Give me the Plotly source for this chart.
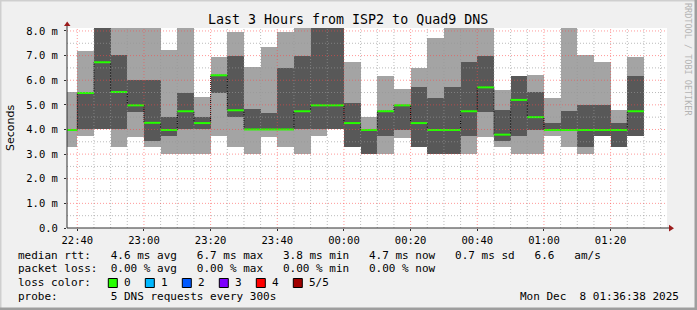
import plotly.graph_objects as go
import pandas as pd

# ---------------- data (ms) ----------------
# 5-minute intervals, start times
starts = pd.date_range("2025-12-07 22:35:00", periods=35, freq="5min")
# sorted ping values per interval: p1 (min) .. p5 (max); values above the axis top are clipped
p1 = [3.27, 3.74, 4.00, 3.27, 3.71, 3.27, 3.00, 3.00, 3.00, 3.74, 3.27, 3.00, 3.71, 3.27, 3.00, 3.74, 4.00, 3.27,
      3.00, 3.00, 3.67, 3.27, 3.00, 3.00, 3.00, 3.70, 3.27, 3.00, 3.00, 3.74, 3.27, 3.00, 3.74, 3.27, 3.74]
p2 = [3.98, 4.00, 4.00, 4.00, 4.72, 3.54, 3.74, 4.00, 4.00, 5.48, 4.49, 4.00, 4.00, 4.00, 4.00, 4.00, 4.00, 3.27,
      3.00, 3.74, 3.98, 3.27, 3.00, 3.00, 3.74, 4.70, 3.54, 3.74, 3.98, 3.98, 3.98, 3.27, 3.74, 3.27, 3.74]
median = [3.98, 5.48, 6.73, 5.52, 4.98, 4.27, 3.98, 4.74, 4.26, 6.20, 4.78, 4.00, 4.00, 4.00, 4.74, 4.98, 4.98, 4.26,
          3.98, 4.74, 4.98, 4.26, 3.98, 3.98, 4.74, 5.71, 3.79, 5.20, 4.50, 3.98, 3.98, 3.98, 3.98, 3.98, 4.74]
p4 = [3.98, 5.48, 8.50, 7.03, 6.00, 6.00, 4.49, 5.47, 4.49, 6.22, 7.00, 4.82, 4.68, 6.49, 7.00, 8.50, 8.50, 5.06,
      3.98, 4.74, 4.98, 5.71, 5.28, 5.71, 6.73, 7.00, 4.78, 6.19, 5.51, 4.27, 4.74, 4.98, 4.98, 4.27, 6.19]
p5 = [5.54, 7.20, 8.50, 8.50, 8.50, 8.50, 7.24, 8.50, 5.31, 6.93, 7.96, 6.55, 7.36, 7.96, 8.50, 8.50, 8.50, 6.75,
      4.50, 6.19, 5.63, 6.49, 7.72, 8.50, 8.50, 8.50, 5.59, 6.19, 6.23, 5.28, 8.50, 7.02, 6.73, 4.78, 6.93]

y_tickvals = [0, 1, 2, 3, 4, 5, 6, 7, 8]
y_ticktext = ["0.0", "1.0 m", "2.0 m", "3.0 m", "4.0 m", "5.0 m", "6.0 m", "7.0 m", "8.0 m"]

title_text = "Last 3 Hours from ISP2 to Quad9 DNS"
legend_lines = [
    "median rtt:   4.6 ms avg   6.7 ms max   3.8 ms min   4.7 ms now   0.7 ms sd   6.6   am/s",
    "packet loss:  0.00 % avg   0.00 % max   0.00 % min   0.00 % now",
]
loss_labels = ["0", "1", "2", "3", "4", "5/5"]
loss_colors = ["#26ff00", "#00b8ff", "#0059ff", "#7e00ff", "#ff0000", "#a00000"]
probe_line = "probe:        5 DNS requests every 300s"
date_text = "Mon Dec  8 01:36:38 2025"

# ---------------- layout geometry ----------------
L, T, W, H = 67, 28, 600, 200
FIG_W, FIG_H = 697, 310
def px(x):
    return (x - L) / W
def py(y):
    return (T + H - y) / H

step = pd.Timedelta(minutes=5)
centers = [s + step / 2 for s in starts]
width_ms = step.total_seconds() * 1000

fig = go.Figure()
# smoke: outer (min..max) light, inner (2nd..4th) dark
fig.add_trace(go.Bar(x=centers, base=p1, y=[b - a for a, b in zip(p1, p5)], width=width_ms,
                     marker=dict(color="#a4a4a4", line=dict(width=0)), hoverinfo="skip"))
fig.add_trace(go.Bar(x=centers, base=p2, y=[b - a for a, b in zip(p2, p4)], width=width_ms,
                     marker=dict(color="#585858", line=dict(width=0)), hoverinfo="skip"))

# median step line (black dotted connectors)
sx = list(starts) + [starts[-1] + step]
sy = list(median) + [median[-1]]
fig.add_trace(go.Scatter(x=sx, y=sy, mode="lines", line=dict(color="#000000", width=1, dash="1px,1px", shape="hv"),
                         hoverinfo="skip"))
# green median segments
gx, gy = [], []
for s, m in zip(starts, median):
    gx += [s, s + step, None]
    gy += [m, m, None]
fig.add_trace(go.Scatter(x=gx, y=gy, mode="lines", line=dict(color="#26ff00", width=2), hoverinfo="skip"))

shapes = []
# grid lines above traces
minor_color = "rgba(150,150,150,0.65)"
major_color = "rgba(255,70,70,0.55)"
t = pd.Timestamp("2025-12-07 22:40:00")
while t <= pd.Timestamp("2025-12-08 01:35:00"):
    major = (t.minute % 20 == 0)
    shapes.append(dict(type="line", xref="x", yref="paper", x0=t, x1=t, y0=0, y1=1, layer="above",
                       line=dict(color=major_color if major else minor_color, width=1, dash="1px,2px")))
    t += step
for k in range(1, 17):
    v = k * 0.5
    major = (k % 2 == 0)
    shapes.append(dict(type="line", xref="paper", yref="y", x0=0, x1=1, y0=v, y1=v, layer="above",
                       line=dict(color=major_color if major else minor_color, width=1, dash="1px,2px")))

# axes lines and arrows
axis_col = "#303030"
arrow_col = "#9b1c1c"
shapes.append(dict(type="line", xref="paper", yref="paper", x0=px(67), x1=px(67), y0=py(228), y1=py(25),
                   layer="above", line=dict(color=axis_col, width=1)))
shapes.append(dict(type="line", xref="paper", yref="paper", x0=px(67), x1=px(670), y0=py(228), y1=py(228),
                   layer="above", line=dict(color=axis_col, width=1)))
shapes.append(dict(type="path", xref="paper", yref="paper", layer="above", fillcolor=arrow_col, line=dict(width=0),
                   path=f"M {px(64)} {py(26)} L {px(70.5)} {py(26)} L {px(67.2)} {py(21.5)} Z"))
shapes.append(dict(type="path", xref="paper", yref="paper", layer="above", fillcolor=arrow_col, line=dict(width=0),
                   path=f"M {px(669)} {py(224.8)} L {px(669)} {py(231.5)} L {px(674)} {py(228.2)} Z"))

# frame
shapes.append(dict(type="rect", xref="paper", yref="paper", x0=px(0), x1=px(697), y0=py(0), y1=py(1.5),
                   fillcolor="#cfcfcf", line=dict(width=0), layer="below"))
shapes.append(dict(type="rect", xref="paper", yref="paper", x0=px(0), x1=px(1.5), y0=py(0), y1=py(310),
                   fillcolor="#cfcfcf", line=dict(width=0), layer="below"))
shapes.append(dict(type="rect", xref="paper", yref="paper", x0=px(694.5), x1=px(697), y0=py(0), y1=py(310),
                   fillcolor="#9e9e9e", line=dict(width=0), layer="below"))
shapes.append(dict(type="rect", xref="paper", yref="paper", x0=px(0), x1=px(697), y0=py(307.5), y1=py(310),
                   fillcolor="#9e9e9e", line=dict(width=0), layer="below"))

mono = "DejaVu Sans Mono"
NB = "\u00a0"
annotations = []
annotations.append(dict(text=title_text.replace(" ", NB), x=px(348), y=py(19), xref="paper", yref="paper",
                        xanchor="center", yanchor="middle", showarrow=False,
                        font=dict(family=mono, size=13.3, color="#000")))
annotations.append(dict(text="Seconds", x=px(10), y=py(128), xref="paper", yref="paper", textangle=-90,
                        xanchor="center", yanchor="middle", showarrow=False,
                        font=dict(family="DejaVu Sans", size=11, color="#000")))
annotations.append(dict(text="RRDTOOL / TOBI OETIKER".replace(" ", NB), x=px(688), y=py(59), xref="paper",
                        yref="paper", textangle=90, xanchor="center", yanchor="middle", showarrow=False,
                        font=dict(family=mono, size=8.5, color="#b4b4b4")))
line_y = [255, 268.5, 282.5, 296]
for i, ln in enumerate(legend_lines):
    annotations.append(dict(text=ln.replace(" ", NB), x=px(16), y=py(line_y[i]), xref="paper", yref="paper",
                            xanchor="left", yanchor="middle", showarrow=False,
                            font=dict(family=mono, size=11, color="#000")))
annotations.append(dict(text="loss" + NB + "color:", x=px(16), y=py(line_y[2]), xref="paper", yref="paper",
                        xanchor="left", yanchor="middle", showarrow=False,
                        font=dict(family=mono, size=11, color="#000")))
box_x = [108.3, 145.3, 182.3, 219.3, 256.3, 293.3]
for bx, lab, col in zip(box_x, loss_labels, loss_colors):
    shapes.append(dict(type="rect", xref="paper", yref="paper", x0=px(bx), x1=px(bx + 9), y0=py(287.5),
                       y1=py(278.5), fillcolor=col, line=dict(color="#000", width=1), layer="above"))
    annotations.append(dict(text=lab, x=px(bx + 14), y=py(line_y[2]), xref="paper", yref="paper",
                            xanchor="left", yanchor="middle", showarrow=False,
                            font=dict(family=mono, size=11, color="#000")))
annotations.append(dict(text=probe_line.replace(" ", NB), x=px(16), y=py(line_y[3]), xref="paper", yref="paper",
                        xanchor="left", yanchor="middle", showarrow=False,
                        font=dict(family=mono, size=11, color="#000")))
annotations.append(dict(text=date_text.replace(" ", NB), x=px(681), y=py(line_y[3]), xref="paper", yref="paper",
                        xanchor="right", yanchor="middle", showarrow=False,
                        font=dict(family=mono, size=11, color="#000")))

fig.update_layout(
    width=FIG_W, height=FIG_H,
    margin=dict(l=L, r=FIG_W - L - W, t=T, b=FIG_H - T - H, pad=0),
    paper_bgcolor="#f0f0f0", plot_bgcolor="#ffffff",
    barmode="overlay", bargap=0, showlegend=False,
    shapes=shapes, annotations=annotations,
    xaxis=dict(type="date", range=["2025-12-07 22:36:55", "2025-12-08 01:36:55"],
               tick0="2025-12-07 22:40:00", dtick=20 * 60 * 1000, tickformat="%H:%M",
               showgrid=False, zeroline=False, showline=False, ticks="outside", ticklen=2,
               tickcolor=axis_col, tickfont=dict(family=mono, size=10.5, color="#000"),
               fixedrange=True),
    yaxis=dict(range=[0, 8.12], tickvals=y_tickvals, ticktext=y_ticktext, showgrid=False, zeroline=False,
               showline=False, ticks="outside", ticklen=2, tickcolor=axis_col, ticklabelstandoff=4,
               tickfont=dict(family=mono, size=10.5, color="#000"), fixedrange=True),
)

fig.write_html("out.html", config={"displayModeBar": False})
